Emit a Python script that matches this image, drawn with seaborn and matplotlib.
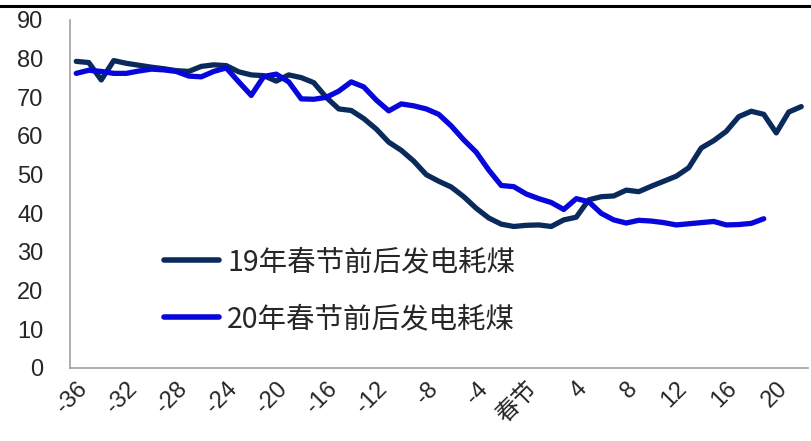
import numpy as np
import pandas as pd
import matplotlib
matplotlib.use("Agg")
import matplotlib.pyplot as plt
import seaborn as sns

sns.set_style("white")
plt.rcParams['font.family'] = ['Liberation Sans', 'Noto Sans CJK SC', 'DejaVu Sans']

# 春节前后天数（0 = 春节）
days_19 = list(range(-36, 23))
days_20 = list(range(-36, 20))

coal_19 = [79.3, 79.0, 74.5, 79.5, 78.8, 78.3, 77.8, 77.4, 76.9, 76.7,
           78.0, 78.4, 78.2, 76.6, 75.8, 75.6, 74.2, 75.8, 75.1, 73.8,
           70.0, 67.0, 66.6, 64.5, 61.8, 58.4, 56.3, 53.5, 50.0, 48.3,
           46.8, 44.3, 41.3, 38.8, 37.2, 36.6, 36.9, 37.0, 36.6, 38.3,
           39.0, 43.5, 44.3, 44.5, 46.0, 45.6, 47.0, 48.3, 49.6, 51.8,
           56.9, 58.8, 61.2, 65.0, 66.4, 65.6, 60.8, 66.2, 67.6]
coal_20 = [76.2, 77.0, 76.7, 76.2, 76.2, 76.8, 77.3, 77.1, 76.7, 75.5,
           75.3, 76.7, 77.6, 74.0, 70.5, 75.4, 76.0, 74.0, 69.6, 69.5,
           70.0, 71.6, 74.0, 72.7, 69.3, 66.5, 68.3, 67.8, 67.0, 65.6,
           62.6, 59.0, 55.8, 51.2, 47.2, 46.9, 45.0, 43.8, 42.8, 41.0,
           43.8, 43.0, 40.0, 38.3, 37.5, 38.2, 38.0, 37.6, 37.0, 37.3,
           37.6, 37.9, 37.0, 37.1, 37.4, 38.6]

label_19 = "19年春节前后发电耗煤"
label_20 = "20年春节前后发电耗煤"

tick_days = list(range(-36, 21, 4))
tick_labels = ["春节" if d == 0 else str(d) for d in tick_days]

df = pd.concat([
    pd.DataFrame({"day": days_19, "coal": coal_19, "series": label_19}),
    pd.DataFrame({"day": days_20, "coal": coal_20, "series": label_20}),
])

fig = plt.figure(figsize=(8.11, 4.41), dpi=100)
ax = fig.add_axes([70 / 811, 1 - 368 / 441, 737.5 / 811, 348 / 441])

sns.lineplot(data=df, x="day", y="coal", hue="series",
             palette={label_19: "#0b2a5c", label_20: "#0707dc"},
             linewidth=3.8, ax=ax, legend=True)
for ln in ax.lines:
    ln.set_solid_capstyle("round")
    ln.set_solid_joinstyle("round")

ax.set_xlim(-36.5, 22.5)
ax.set_ylim(0, 90)
ax.set_yticks(range(0, 91, 10))
ax.set_xlabel("")
ax.set_ylabel("")

# 刻度线在类别之间，标签在类别中心
ax.set_xticks([d - 0.5 for d in tick_days])
ax.set_xticklabels([])
ax.set_xticks(tick_days, minor=True)
ax.set_xticklabels(tick_labels, minor=True, rotation=45, ha="right",
                   rotation_mode="anchor", fontsize=17)
ax.tick_params(axis="x", which="major", length=6, width=1, color="#9a9a9a", direction="out")
ax.tick_params(axis="x", which="minor", length=0, pad=7)
ax.tick_params(axis="y", length=5, width=1, color="#9a9a9a", direction="out",
               labelsize=17, pad=14)

for s in ["top", "right"]:
    ax.spines[s].set_visible(False)
for s in ["left", "bottom"]:
    ax.spines[s].set_color("#a0a0a0")
    ax.spines[s].set_linewidth(1.2)

leg = ax.legend(loc="upper left", bbox_to_anchor=(0.1, 0.405), frameon=False,
                handlelength=1.95, handletextpad=0.28, labelspacing=0.95,
                borderpad=0.2, prop={"family": ["Noto Sans CJK SC"], "size": 20.5})
for h in leg.get_lines():
    h.set_linewidth(4)

# 顶部黑色分隔线
fig.add_artist(plt.Line2D([0, 1], [1 - 6 / 441, 1 - 6 / 441], color="black",
                          linewidth=2.2, transform=fig.transFigure))

fig.savefig("out.png", dpi=100)
